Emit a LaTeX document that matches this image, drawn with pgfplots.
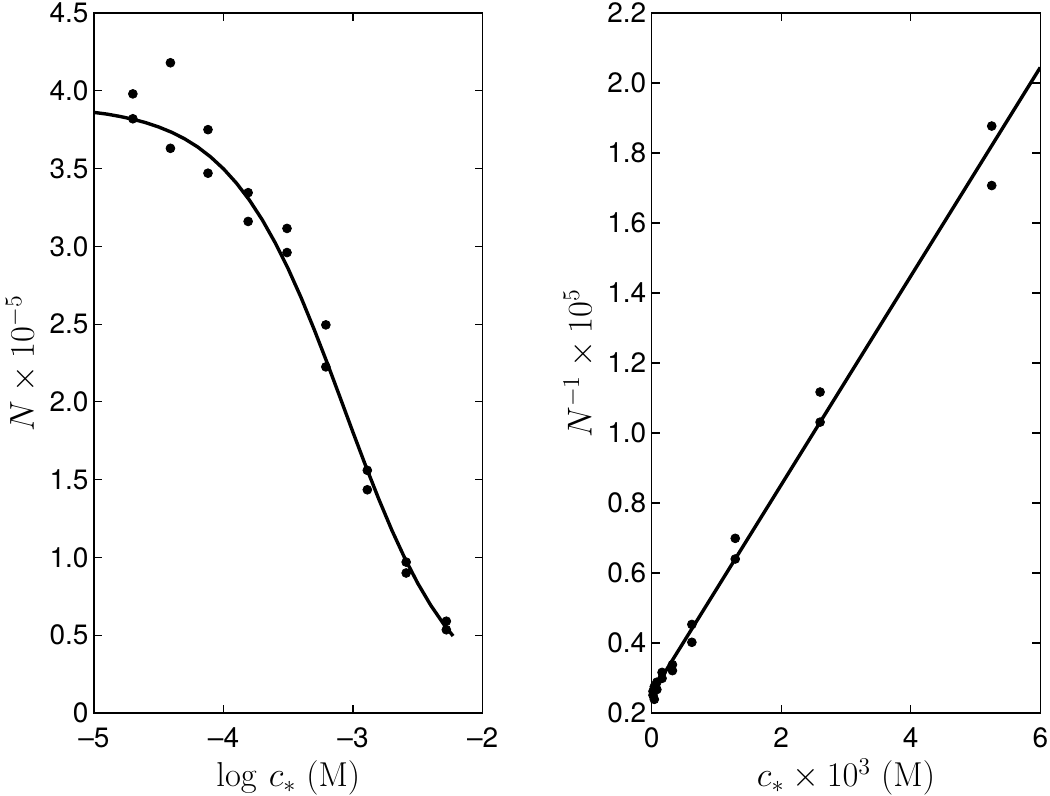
\documentclass[border=0pt]{standalone}
\usepackage[no-math]{fontspec}
\usepackage{pgfplots}
\pgfplotsset{compat=1.18}
\newfontfamily\helv[Ligatures=TeX]{TeX Gyre Heros}
\newcommand{\lblsize}{\fontsize{16.5}{20}\selectfont}

\pgfplotstableread{
x y
-4.70 3.98
-4.70 3.82
-4.41 4.18
-4.41 3.63
-4.12 3.75
-4.12 3.47
-3.81 3.345
-3.81 3.16
-3.51 3.115
-3.51 2.96
-3.21 2.495
-3.21 2.225
-2.89 1.56
-2.89 1.435
-2.59 0.97
-2.59 0.90
-2.28 0.59
-2.28 0.535
}\leftpts

\pgfplotstableread{
x y
-5.0 3.861
-4.9 3.850
-4.8 3.835
-4.7 3.817
-4.6 3.795
-4.5 3.767
-4.4 3.733
-4.3 3.691
-4.2 3.639
-4.1 3.575
-4.0 3.498
-3.9 3.406
-3.8 3.297
-3.7 3.169
-3.6 3.021
-3.5 2.854
-3.4 2.668
-3.3 2.465
-3.2 2.251
-3.1 2.028
-3.0 1.803
-2.9 1.583
-2.8 1.372
-2.7 1.174
-2.6 0.994
-2.5 0.833
-2.4 0.692
-2.3 0.571
-2.228 0.495
}\leftfit

\pgfplotstableread{
x y
0.02 0.251
0.02 0.262
0.04 0.239
0.04 0.275
0.08 0.267
0.08 0.288
0.16 0.299
0.16 0.316
0.32 0.321
0.32 0.338
0.62 0.402
0.62 0.453
1.29 0.640
1.29 0.699
2.60 1.031
2.60 1.117
5.25 1.707
5.25 1.877
}\rightpts

\pgfplotstableread{
x y
0.01 0.2585
6.00 2.0445
}\rightfit

\pgfplotsset{
  myaxis/.style={
    scale only axis,
    width=194.3pt, height=350pt,
    axis line style={line width=0.6pt},
    tick style={line width=0.6pt, black},
    tick align=inside,
    major tick length=4pt,
    xtick pos=both, ytick pos=both,
    xticklabel pos=lower, yticklabel pos=left,
    tick label style={font=\helv\fontsize{14}{17}\selectfont},
    /pgf/number format/assume math mode=true,
    xticklabel style={yshift=-4pt},
    yticklabel style={xshift=0.8pt},
    every axis x label/.style={at={([yshift=-37pt]axis description cs:0.5,0)}, anchor=base},
    every axis y label/.style={at={([xshift=-30pt]axis description cs:0,0.5)}, rotate=90, anchor=base},
    clip=true,
  }
}

\begin{document}
\begin{tikzpicture}
\useasboundingbox (0,0) rectangle (525pt,398pt);
\begin{axis}[myaxis,
  at={(47pt,41.5pt)}, anchor=south west,
  xmin=-5, xmax=-2, ymin=0, ymax=4.5,
  xtick={-5,-4,-3,-2}, xticklabels={–5,–4,–3,–2},
  ytick={0,0.5,1,1.5,2,2.5,3,3.5,4,4.5},
  yticklabels={0,0.5,1.0,1.5,2.0,2.5,3.0,3.5,4.0,4.5},
  xlabel={\lblsize$\log\, c_*\ (\mathrm{M})$},
  ylabel={\lblsize$N\times 10^{-5}$},
]
\addplot[black, line width=1.7pt, no markers] table[x=x,y=y] {\leftfit};
\addplot[only marks, mark=*, mark size=2.2pt, black] table[x=x,y=y] {\leftpts};
\end{axis}

\begin{axis}[myaxis,
  at={(325.85pt,41.5pt)}, anchor=south west,
  xmin=0, xmax=6, ymin=0.2, ymax=2.2,
  xtick={0,2,4,6}, xticklabels={0,2,4,6},
  ytick={0.2,0.4,0.6,0.8,1.0,1.2,1.4,1.6,1.8,2.0,2.2},
  yticklabels={0.2,0.4,0.6,0.8,1.0,1.2,1.4,1.6,1.8,2.0,2.2},
  xlabel={\lblsize$c_*\times 10^{3}\ (\mathrm{M})$},
  ylabel={\lblsize$N^{-1}\times 10^{5}$},
]
\addplot[black, line width=1.7pt, no markers] table[x=x,y=y] {\rightfit};
\addplot[only marks, mark=*, mark size=2.2pt, black] table[x=x,y=y] {\rightpts};
\end{axis}
\end{tikzpicture}
\end{document}
